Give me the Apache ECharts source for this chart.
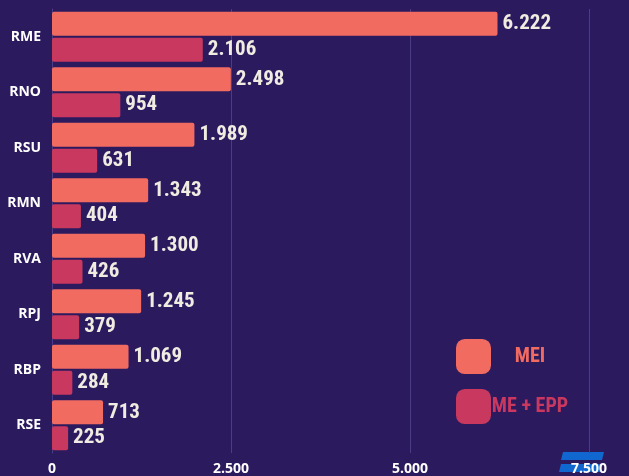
<!DOCTYPE html>
<html>
<head>
<meta charset="utf-8">
<script src="https://cdn.jsdelivr.net/npm/echarts@6/dist/echarts.min.js"></script>
<style>
html, body { margin: 0; padding: 0; background: #2c1a5f; }
#main { width: 629px; height: 476px; }
</style>
</head>
<body>
<div id="main"></div>
<script>
let chart = echarts.init(document.getElementById("main"));

// categories top to bottom
var regions = ["RME", "RNO", "RSU", "RMN", "RVA", "RPJ", "RBP", "RSE"]
var mei = [6222, 2498, 1989, 1343, 1300, 1245, 1069, 713]
var meEpp = [2106, 954, 631, 404, 426, 379, 284, 225]
var xTicks = [0, 2500, 5000, 7500]

var meiColor = "#f26b61"
var eppColor = "#c8385f"

function fmt(v) {
    return String(v).replace(/\B(?=(\d{3})+(?!\d))/g, ".")
}

var labelFont = "'Roboto Condensed', 'DejaVu Sans Condensed', 'Liberation Sans Narrow', 'Open Sans', sans-serif"

let option = {
    backgroundColor: "#2c1a5f",
    animation: false,
    grid: {
        left: 52,
        right: 40,
        top: 9,
        bottom: 17
    },
    legend: {
        orient: "vertical",
        left: 451,
        top: 334,
        itemWidth: 35,
        itemHeight: 35,
        itemGap: 15,
        itemStyle: { borderRadius: 5 },
        icon: "roundRect",
        data: [
            { name: "MEI", textStyle: { color: meiColor } },
            { name: "ME + EPP", textStyle: { color: eppColor } }
        ],
        formatter: function (name) { return "{t|" + name + "}" },
        textStyle: {
            rich: {
                t: {
                    fontFamily: labelFont,
                    fontWeight: "bold",
                    fontSize: 20,
                    width: 68,
                    align: "center"
                }
            }
        }
    },
    xAxis: {
        type: "value",
        min: xTicks[0],
        max: xTicks[xTicks.length - 1],
        interval: 2500,
        axisLine: { show: false },
        axisTick: { show: false },
        axisLabel: {
            color: "#ffffff",
            fontFamily: "'Open Sans', sans-serif",
            fontWeight: "bold",
            fontSize: 14,
            margin: 9,
            formatter: function (v) { return fmt(v) }
        },
        splitLine: {
            lineStyle: { color: "#4b3c87", width: 1 }
        }
    },
    yAxis: {
        type: "category",
        data: regions,
        inverse: true,
        axisLine: { show: true, lineStyle: { color: "#4b3c87" } },
        axisTick: { show: false },
        axisLabel: {
            color: "#ffffff",
            fontFamily: "'Open Sans', sans-serif",
            fontWeight: "bold",
            fontSize: 14,
            margin: 11
        }
    },
    series: [
        {
            name: "MEI",
            type: "bar",
            data: mei,
            barWidth: 24,
            barGap: "8%",
            itemStyle: { color: meiColor, borderRadius: 2 },
            label: {
                show: true,
                position: "right",
                distance: 5,
                color: "#f1ece1",
                fontFamily: labelFont,
                fontWeight: "bold",
                fontSize: 21,
                formatter: function (p) { return fmt(p.value) }
            }
        },
        {
            name: "ME + EPP",
            type: "bar",
            data: meEpp,
            barWidth: 24,
            itemStyle: { color: eppColor, borderRadius: 2 },
            label: {
                show: true,
                position: "right",
                distance: 5,
                color: "#f1ece1",
                fontFamily: labelFont,
                fontWeight: "bold",
                fontSize: 21,
                formatter: function (p) { return fmt(p.value) }
            }
        }
    ],
    graphic: [
        {
            type: "polygon",
            shape: { points: [[563, 452], [604, 452], [602, 460], [561, 460]] },
            style: { fill: "#1167d0" }
        },
        {
            type: "polygon",
            shape: { points: [[561, 464], [602, 464], [600, 472], [559, 472]] },
            style: { fill: "#1167d0" }
        }
    ]
};

chart.setOption(option);
</script>
</body>
</html>
